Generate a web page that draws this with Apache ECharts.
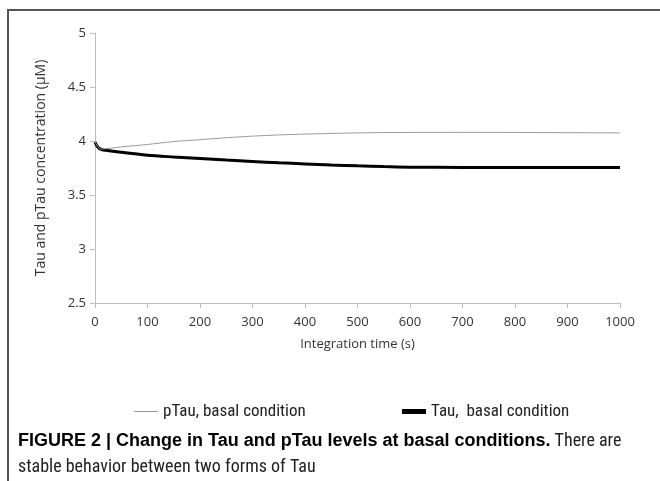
<!DOCTYPE html>
<html>
<head>
<meta charset="utf-8">
<script src="https://cdn.jsdelivr.net/npm/echarts@6/dist/echarts.min.js"></script>
<style>
html,body{margin:0;padding:0;background:#fff;}
#c{width:660px;height:481px;}
</style>
</head>
<body>
<div id="c"></div>
<script>
// Data
const times = [0, 5, 10, 20, 50, 100, 150, 200, 250, 300, 350, 400, 450, 500, 550, 600, 700, 800, 900, 1000];
const pTau  = [3.99, 3.95, 3.926, 3.928, 3.945, 3.968, 3.995, 4.012, 4.03, 4.045, 4.056, 4.064, 4.07, 4.075, 4.078, 4.079, 4.08, 4.079, 4.077, 4.075];
const tau   = [3.99, 3.945, 3.926, 3.915, 3.895, 3.868, 3.852, 3.838, 3.823, 3.81, 3.798, 3.788, 3.778, 3.77, 3.763, 3.758, 3.755, 3.754, 3.754, 3.754];
const seriesNames = ['pTau, basal condition', 'Tau,  basal condition'];
const xTitle = 'Integration time (s)';
const yTitle = 'Tau and pTau concentration (\u03bcM)';
const captionBold = 'FIGURE 2 | Change in Tau and pTau levels at basal conditions.';
const captionRest = ' There are';
const captionLine2 = 'stable behavior between two forms of Tau';

const FONT = '"Open Sans", Lato, sans-serif';
const CAPFONT = '"Roboto Condensed", "Liberation Sans Narrow", "Liberation Sans", sans-serif';
const BOLDFONT = '"Liberation Sans", Arial, sans-serif';

const chart = echarts.init(document.getElementById('c'), null, {renderer: 'canvas'});
const pair = (arr) => times.map((t, i) => [t, arr[i]]);

chart.setOption({
  animation: false,
  backgroundColor: '#fff',
  textStyle: {fontFamily: FONT},
  grid: {left: 95, right: 40, top: 33, bottom: 178, containLabel: false},
  xAxis: {
    type: 'value', min: 0, max: 1000, interval: 100,
    axisLine: {show: true, lineStyle: {color: '#bdbdbd', width: 1}},
    axisTick: {show: true, inside: false, length: 5, lineStyle: {color: '#bdbdbd'}},
    axisLabel: {color: '#333', fontSize: 13, margin: 13, fontFamily: FONT, formatter: (v) => String(v)},
    splitLine: {show: false},
    name: xTitle, nameLocation: 'middle', nameGap: 35,
    nameTextStyle: {color: '#333', fontSize: 13, fontFamily: FONT}
  },
  yAxis: {
    type: 'value', min: 2.5, max: 5, interval: 0.5,
    axisLine: {show: true, lineStyle: {color: '#bdbdbd', width: 1}},
    axisTick: {show: true, inside: false, length: 5, lineStyle: {color: '#bdbdbd'}},
    axisLabel: {color: '#333', fontSize: 13, margin: 9, fontFamily: FONT, formatter: (v) => String(v)},
    splitLine: {show: false},
    name: yTitle, nameLocation: 'middle', nameGap: 47, nameRotate: 90,
    nameTextStyle: {color: '#333', fontSize: 14, fontFamily: FONT}
  },
  legend: [
    {
      data: [seriesNames[0]], left: 129, top: 398, icon: 'rect',
      itemWidth: 24, itemHeight: 1, itemGap: 10,
      textStyle: {color: '#222', fontSize: 17, fontFamily: CAPFONT}
    },
    {
      data: [seriesNames[1]], left: 397, top: 398, icon: 'rect',
      itemWidth: 24, itemHeight: 5, itemGap: 10,
      textStyle: {color: '#222', fontSize: 17, fontFamily: CAPFONT}
    }
  ],
  series: [
    {
      name: seriesNames[0], type: 'line', data: pair(pTau), showSymbol: false, smooth: 0.3,
      lineStyle: {color: '#9a9a9a', width: 1}, itemStyle: {color: '#9a9a9a'}, z: 3
    },
    {
      name: seriesNames[1], type: 'line', data: pair(tau), showSymbol: false, smooth: 0.3,
      lineStyle: {color: '#000', width: 3}, itemStyle: {color: '#000'}, z: 2
    }
  ],
  graphic: [
    {
      type: 'polyline', silent: true,
      shape: {points: [[8, 481], [8, 10], [660, 10]]},
      style: {stroke: '#555', lineWidth: 2, fill: null}
    },
    {
      type: 'text', left: 18, top: 432, silent: true,
      style: {
        text: '{b|' + captionBold + '}{n|' + captionRest + '}\n{n|' + captionLine2 + '}',
        rich: {
          b: {fontFamily: BOLDFONT, fontSize: 18, fontWeight: 'bold', fill: '#000', lineHeight: 26},
          n: {fontFamily: CAPFONT, fontSize: 18, fill: '#222', lineHeight: 26}
        }
      }
    }
  ]
});
</script>
</body>
</html>
